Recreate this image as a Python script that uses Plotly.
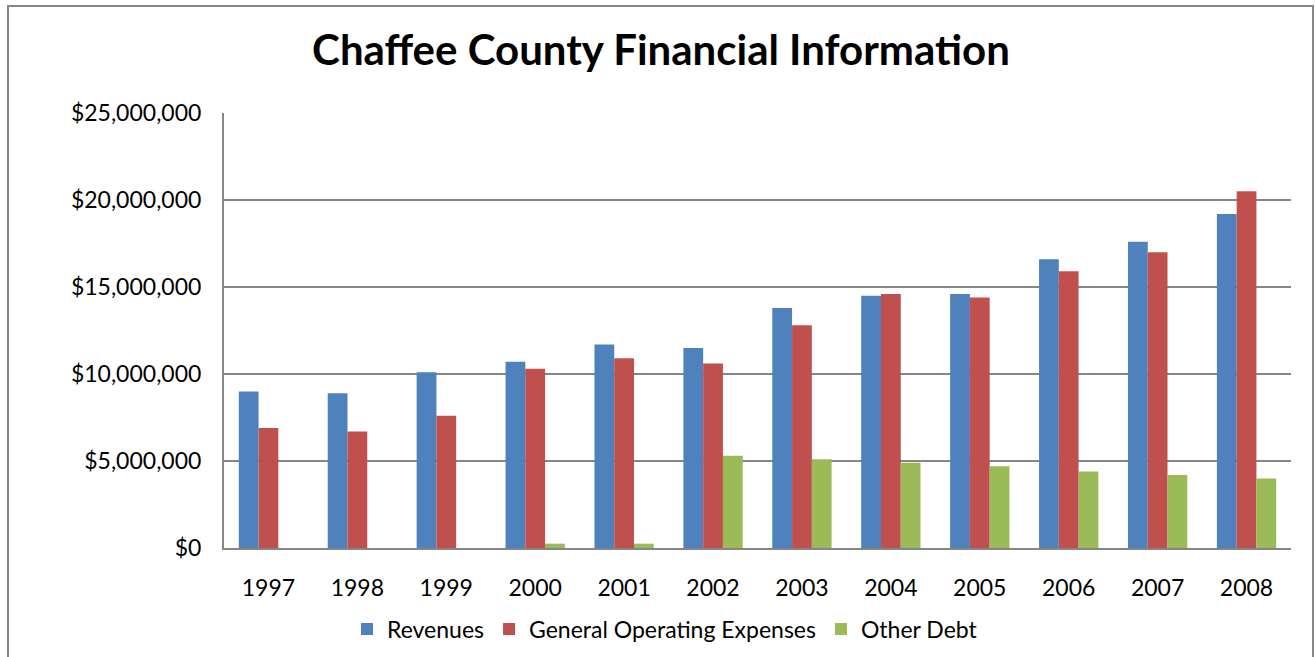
import plotly.graph_objects as go

years = ["1997", "1998", "1999", "2000", "2001", "2002", "2003", "2004", "2005", "2006", "2007", "2008"]
revenues = [9.0e6, 8.9e6, 10.1e6, 10.7e6, 11.7e6, 11.5e6, 13.8e6, 14.5e6, 14.6e6, 16.6e6, 17.6e6, 19.2e6]
expenses = [6.9e6, 6.7e6, 7.6e6, 10.3e6, 10.9e6, 10.6e6, 12.8e6, 14.6e6, 14.4e6, 15.9e6, 17.0e6, 20.5e6]
other_debt = [0, 0, 0, 0.25e6, 0.25e6, 5.3e6, 5.1e6, 4.9e6, 4.7e6, 4.4e6, 4.2e6, 4.0e6]
y_ticks = [0, 5e6, 10e6, 15e6, 20e6, 25e6]
y_tick_labels = ["$0", "$5,000,000", "$10,000,000", "$15,000,000", "$20,000,000", "$25,000,000"]

FONT = "Lato, 'Open Sans', sans-serif"

fig = go.Figure()
fig.add_bar(x=years, y=revenues, name="Revenues",
            marker=dict(color="#4F81BD", line=dict(width=0)))
fig.add_bar(x=years, y=expenses, name="General Operating Expenses",
            marker=dict(color="#C0504D", line=dict(width=0)))
fig.add_bar(x=years, y=other_debt, name="Other Debt",
            marker=dict(color="#9BBB59", line=dict(width=0)))

W, H = 1316, 657
L, R, T, B = 224, 25, 113, 109
pw, ph = W - L - R, H - T - B

def px_x(x):
    return (x - L) / pw

def px_y(y):
    return (H - B - y) / ph

fig.update_layout(
    width=W, height=H,
    margin=dict(l=L, r=R, t=T, b=B, autoexpand=False),
    paper_bgcolor="white", plot_bgcolor="white",
    barmode="group", bargap=0.333, bargroupgap=0,
    font=dict(family=FONT, size=23, color="#000000"),
    title=dict(text="<b>Chaffee County Financial Information</b>",
               x=661 / W, xref="container", xanchor="center",
               y=1 - 50 / H, yref="container", yanchor="middle",
               font=dict(family=FONT, size=42, color="#000000")),
    showlegend=True,
    legend=dict(orientation="h", x=665 / W, xanchor="center", xref="container",
                y=1 - 629 / H, yanchor="middle", yref="container",
                font=dict(family=FONT, size=23), traceorder="normal",
                itemwidth=30),
    xaxis=dict(showline=True, linecolor="#868686", linewidth=2, automargin=False,
               ticks="", ticklen=0, showgrid=False, ticklabelstandoff=18,
               tickfont=dict(family=FONT, size=23)),
    yaxis=dict(range=[0, 25e6], tickvals=y_ticks, ticktext=y_tick_labels,
               showline=True, linecolor="#868686", linewidth=2, automargin=False,
               showgrid=True, gridcolor="#868686", gridwidth=2,
               zeroline=False, ticks="", ticklen=0, ticklabelstandoff=16,
               tickfont=dict(family=FONT, size=23)),
    shapes=[dict(type="rect", xref="paper", yref="paper",
                 x0=px_x(8), x1=px_x(1313), y0=px_y(664), y1=px_y(6),
                 line=dict(color="#868686", width=2), layer="below")],
)

fig.write_html("out.html", config={"displayModeBar": False},
               post_script="document.body.style.margin='0';document.body.style.overflow='hidden';")
